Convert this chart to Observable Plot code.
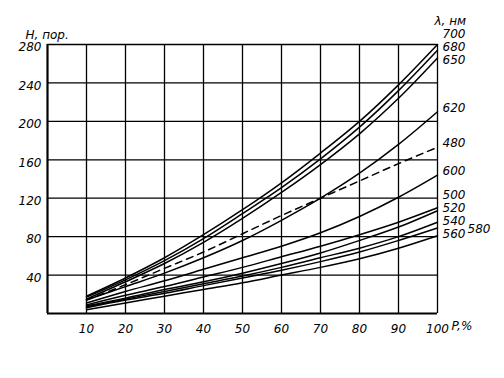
<!DOCTYPE html>
<html><head><meta charset="utf-8">
<script src="https://cdn.jsdelivr.net/npm/d3@7"></script>
<script src="https://cdn.jsdelivr.net/npm/@observablehq/plot@0.6"></script>
<style>body{margin:0;background:#fff}</style>
</head><body><div id="chart"></div>
<script>
// Saturation P, %
const P = [10, 20, 30, 40, 50, 60, 70, 80, 90, 100];
// Threshold counts H for each wavelength (nm)
const H700 = [18, 37, 58, 82, 108, 136, 167, 200, 238, 280];
const H680 = [17, 35, 55, 78, 104, 131, 161, 194, 232, 274];
const H650 = [15, 33, 52, 74, 99, 126, 155, 187, 224, 266];
const H620 = [14, 28, 42, 58, 76, 97, 120, 146, 176, 210];
const H480 = [14, 30, 47, 64, 83, 102, 120, 138, 156, 173];
const H600 = [11, 23, 34, 46, 58, 70, 84, 101, 121, 144];
const H500 = [9, 19, 28, 38, 48, 59, 70, 82, 95, 110];
const H520 = [8, 16, 25, 33, 42, 52, 63, 76, 90, 107];
const H540 = [7, 15, 23, 31, 39, 48, 58, 68, 80, 95];
const H580 = [6, 14, 21, 29, 37, 45, 54, 64, 76, 89];
const H560 = [4, 11, 18, 25, 32, 40, 48, 57, 68, 81];

const lambdas = ["700", "680", "650", "620", "480", "600", "500", "520", "540", "580", "560"];
const seriesH = [H700, H680, H650, H620, H480, H600, H500, H520, H540, H580, H560];
const dashedLambda = "480";

const xTicks = [10, 20, 30, 40, 50, 60, 70, 80, 90, 100];
const yTicks = [40, 80, 120, 160, 200, 240, 280];

const rows = lambdas.flatMap((l, k) => P.map((p, i) => ({lambda: l, P: p, H: seriesH[k][i]})));

const W = 504, HT = 378, mL = 47, mR = 67, mT = 44, mB = 65;
const upp = 280 / (HT - mT - mB); // data units per pixel

// curve-end labels: choose column greedily, then relax overlaps symmetrically
const ends = lambdas.map((l, k) => ({lambda: l, end: seriesH[k][seriesH[k].length - 1]}))
  .sort((a, b) => b.end - a.end);
const gap = 13 * upp, off = 4 * upp, thr = 14 * upp;
let last = Infinity;
const labels = ends.map(e => {
  const cand = e.end + off;
  if (last - cand < gap) {
    const need = last - gap;
    if (cand - need > thr) return {text: e.lambda, y: e.end - 1.5 * upp, col: 1};
    last = need;
  } else last = cand;
  return {text: e.lambda, y: cand, col: 0};
});
const col0 = labels.filter(d => d.col === 0);
for (let it = 0; it < 300; it++) {
  for (let i = 0; i < col0.length - 1; i++) {
    const diff = col0[i].y - col0[i + 1].y;
    if (diff < gap) {
      const d = (gap - diff) / 2;
      col0[i].y += d;
      col0[i + 1].y -= d;
    }
  }
}

const font = {fontFamily: "DejaVu Sans", fontSize: 12, fontStyle: "italic", fill: "#000"};

const chart = Plot.plot({
  width: W, height: HT,
  marginLeft: mL, marginRight: mR, marginTop: mT, marginBottom: mB,
  style: {fontFamily: "DejaVu Sans", fontSize: "12px", fontStyle: "italic", background: "#fff", color: "#000"},
  x: {domain: [0, 100], axis: null},
  y: {domain: [0, 280], axis: null},
  marks: [
    Plot.ruleX(xTicks, {stroke: "#000", strokeWidth: 1.3}),
    Plot.ruleY(yTicks, {stroke: "#000", strokeWidth: 1.3}),
    Plot.ruleX([0], {stroke: "#000", strokeWidth: 2.2}),
    Plot.ruleY([0], {stroke: "#000", strokeWidth: 2.2}),
    Plot.text(xTicks, {x: d => d, y: 0, dy: 16, text: d => String(d), ...font}),
    Plot.text(yTicks, {x: 0, y: d => d, dx: -6, dy: 3, textAnchor: "end", text: d => String(d), ...font}),
    Plot.line(rows.filter(d => d.lambda !== dashedLambda), {x: "P", y: "H", z: "lambda", stroke: "#000", strokeWidth: 1.5, curve: "catmull-rom"}),
    Plot.line(rows.filter(d => d.lambda === dashedLambda), {x: "P", y: "H", z: "lambda", stroke: "#000", strokeWidth: 1.5, strokeDasharray: "7,5", curve: "catmull-rom"}),
    Plot.text(labels.filter(d => d.col === 0), {x: () => 100, y: "y", text: "text", dx: 5, textAnchor: "start", ...font}),
    Plot.text(labels.filter(d => d.col === 1), {x: () => 100, y: "y", text: "text", dx: 30, textAnchor: "start", ...font}),
    Plot.text(["H, пор."], {frameAnchor: "top-left", text: d => d, textAnchor: "start", dx: -22, dy: -14, ...font}),
    Plot.text(["λ, нм"], {frameAnchor: "top-right", text: d => d, textAnchor: "start", dx: -3, dy: -28, ...font}),
    Plot.text(["P,%"], {frameAnchor: "bottom-right", text: d => d, textAnchor: "start", dx: 14, dy: 16, ...font})
  ]
});
document.getElementById("chart").appendChild(chart);
</script>
</body></html>
